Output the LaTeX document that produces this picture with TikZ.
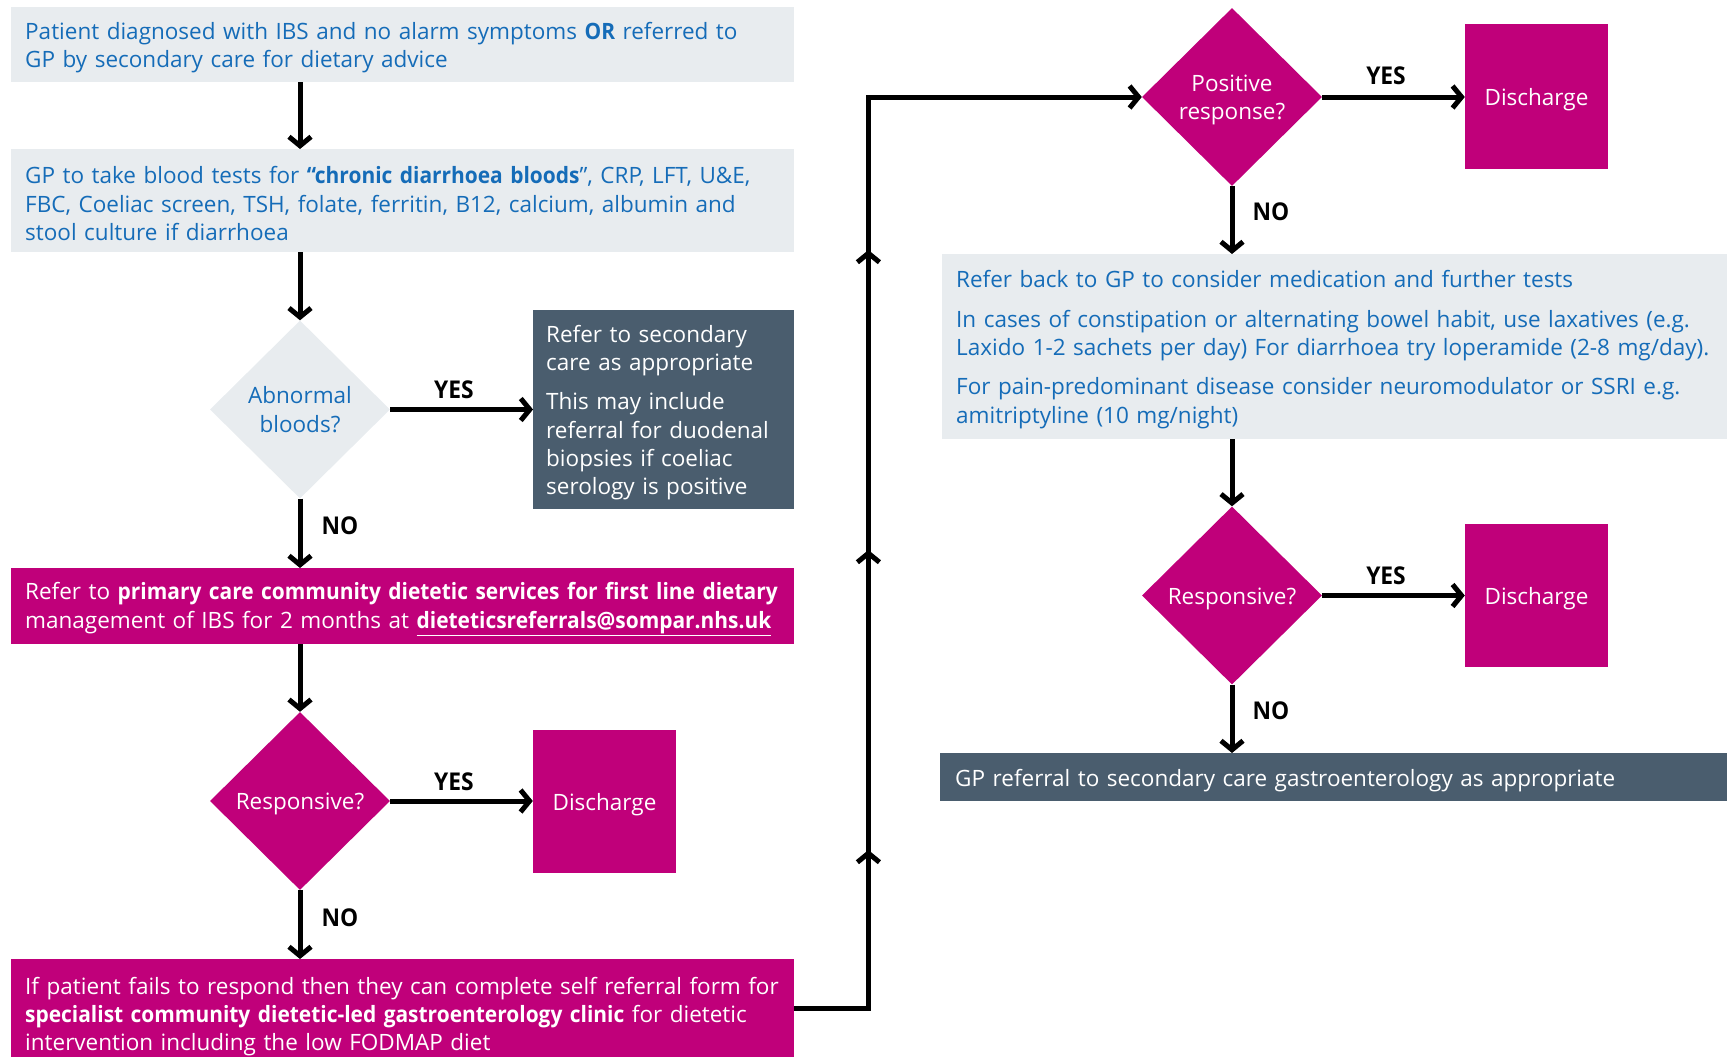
\documentclass[tikz,border=0pt]{standalone}
\usepackage{fontspec}
\setmainfont{Open Sans}[BoldFeatures={FakeStretch=0.93}]
\usetikzlibrary{shapes.geometric,arrows.meta,decorations.markings}
\definecolor{lgrey}{HTML}{E8ECEF}
\definecolor{nblue}{HTML}{156CB8}
\definecolor{npink}{HTML}{C0007A}
\definecolor{nslate}{HTML}{4A5D6E}
\newcommand\fsz{\fontsize{22.5}{28.3}\selectfont}
\newcommand\fsl{\fontsize{24.5}{28}\selectfont\bfseries}
\newcommand\tup{\rule{0pt}{23pt}}
\begin{document}
\begin{tikzpicture}[x=1pt,y=-1pt,
  every node/.style={inner sep=0pt,font=\fsz},
  lowered/.style={execute at begin node=\tup},
  boxbase/.style={lowered,anchor=north west,align=left,inner xsep=14pt,inner ysep=0pt},
  lbox/.style={boxbase,fill=lgrey,text=nblue},
  pbox/.style={boxbase,fill=npink,text=white},
  sbox/.style={boxbase,fill=nslate,text=white},
  dia/.style={lowered,diamond,aspect=1,minimum width=180pt,minimum height=178pt,inner sep=0pt,align=center},
  ldia/.style={dia,fill=lgrey,text=nblue},
  pdia/.style={dia,fill=npink,text=white},
  dbox/.style={lowered,fill=npink,text=white,minimum width=143pt,minimum height=143pt},
  arr/.style={line width=5pt,-{Straight Barb[length=9pt,width=22pt]}},
  lab/.style={font=\fsl,text=black},
  upmarks/.style={postaction={decorate},decoration={markings,
    mark=at position 232pt with {\arrow{Straight Barb[length=9pt,width=22pt]}},
    mark=at position 532pt with {\arrow{Straight Barb[length=9pt,width=22pt]}},
    mark=at position 832pt with {\arrow{Straight Barb[length=9pt,width=22pt]}}}}
]
\useasboundingbox (0,0) rectangle (1732,1057);

% left column
\node[lbox,minimum width=783pt,minimum height=75pt,text width=755pt] (b1) at (11,7)
  {Patient diagnosed with IBS and no alarm symptoms \textbf{OR} referred to\\GP by secondary care for dietary advice};
\node[lbox,minimum width=783pt,minimum height=103pt,text width=755pt] (b2) at (11,149)
  {GP to take blood tests for \textbf{“chronic diarrhoea bloods}”, CRP, LFT, U\&E,\\FBC, Coeliac screen, TSH, folate, ferritin, B12, calcium, albumin and\\stool culture if diarrhoea};
\node[ldia] (abn) at (300,409.5) {Abnormal\\bloods?};
\node[sbox,minimum width=261pt,minimum height=199pt,text width=235pt,inner xsep=13pt] (d1) at (533,310)
  {Refer to secondary\\care as appropriate\\[11pt]This may include\\referral for duodenal\\biopsies if coeliac\\serology is positive};
\node[pbox,minimum width=783pt,minimum height=76pt,text width=755pt] (b3) at (11,568)
  {Refer to \textbf{primary care community dietetic services for first line dietary}\\management of IBS for 2 months at \textbf{\underline{dieteticsreferrals@sompar.nhs.uk}}};
\node[pdia] (r1) at (300,801) {Responsive?};
\node[dbox] (dc1) at (604.5,801.5) {Discharge};
\node[pbox,minimum width=783pt,minimum height=109pt,text width=755pt] (b4) at (11,959)
  {If patient fails to respond then they can complete self referral form for\\\textbf{specialist community dietetic-led gastroenterology clinic} for dietetic\\intervention including the low FODMAP diet};

% right column
\node[pdia] (pos) at (1232,97) {\rule{0pt}{22pt}Positive\\response?};
\node[dbox,minimum height=145pt] (dc2) at (1536.5,96.5) {Discharge};
\node[lbox,minimum width=785pt,minimum height=185pt,text width=757pt,inner xsep=14pt] (b5) at (942,254)
  {Refer back to GP to consider medication and further tests\\[11pt]In cases of constipation or alternating bowel habit, use laxatives (e.g.\\Laxido 1-2 sachets per day) For diarrhoea try loperamide (2-8 mg/day).\\[11pt]For pain-predominant disease consider neuromodulator or SSRI e.g.\\amitriptyline (10 mg/night)};
\node[pdia] (r2) at (1232,595.5) {Responsive?};
\node[dbox] (dc3) at (1536.5,595.5) {Discharge};
\node[sbox,minimum width=787pt,minimum height=48pt,text width=757pt,inner xsep=15pt] (b6) at (940,753)
  {GP referral to secondary care gastroenterology as appropriate};

% connectors
\draw[arr] (b1.south -| abn.north) -- (b2.north -| abn.north);
\draw[arr] (b2.south -| abn.north) -- (abn.north);
\draw[arr] (abn.east) -- (abn.east -| d1.west);
\draw[arr] (abn.south) -- (b3.north -| abn.south);
\draw[arr] (b3.south -| r1.north) -- (r1.north);
\draw[arr] (r1.east) -- (r1.east -| dc1.west);
\draw[arr] (r1.south) -- (b4.north -| r1.south);
\draw[arr,upmarks] (b4.east |- 0,1008) -- ++(74,0) |- (pos.west);
\draw[arr] (pos.east) -- (pos.east -| dc2.west);
\draw[arr] (pos.south) -- (b5.north -| pos.south);
\draw[arr] (b5.south -| r2.north) -- (r2.north);
\draw[arr] (r2.east) -- (r2.east -| dc3.west);
\draw[arr] (r2.south) -- (b6.north -| r2.south);

% labels
\node[lab] (y1) at (454,390) {YES};
\node[lab] (n1) at (340,526) {NO};
\node[lab] (y2) at (454,782) {YES};
\node[lab] (n2) at (340,918) {NO};
\node[lab] (y3) at (1386,76) {YES};
\node[lab] (n3) at (1271,212) {NO};
\node[lab] (y4) at (1386,576) {YES};
\node[lab] (n4) at (1271,711) {NO};
\end{tikzpicture}
\end{document}
